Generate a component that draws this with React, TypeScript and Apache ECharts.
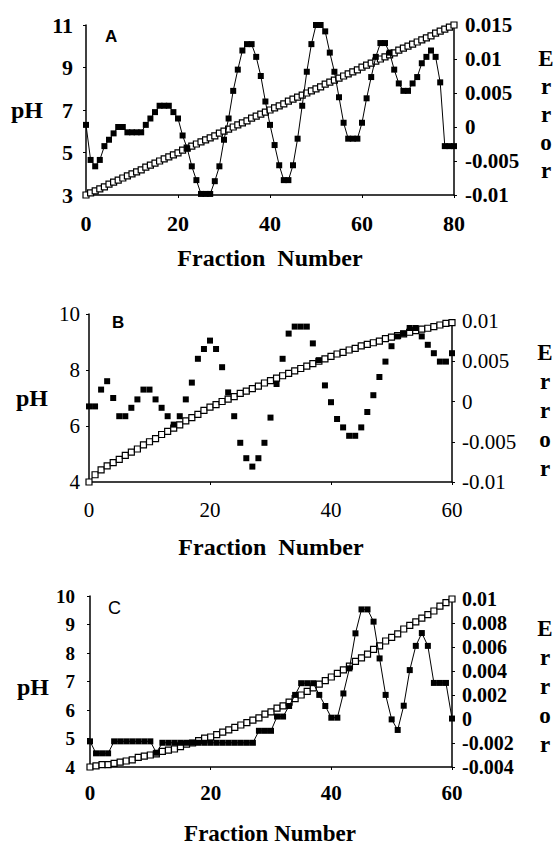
import React, { useEffect, useRef } from "react";
import * as echarts from "echarts";

// Panel A: pH gradient (filled squares) and error (open squares), fractions 0-80
const phA = [
  6.3, 4.65, 4.35, 4.65, 5.3, 5.6, 5.9, 6.2, 6.2, 5.95,
  5.95, 5.95, 5.95, 6.3, 6.6, 6.9, 7.2, 7.2, 7.2, 6.9,
  6.6, 5.8, 5.2, 4.35, 3.7, 3.05, 3.05, 3.05, 3.65, 4.35,
  5.6, 6.6, 7.9, 8.9, 9.8, 10.1, 10.1, 9.5, 8.6, 7.4,
  6.3, 5.35, 4.4, 3.7, 3.7, 4.4, 5.65, 7.2, 8.8, 10.1,
  11, 11, 10.7, 9.7, 8.8, 7.6, 6.4, 5.65, 5.65, 5.65,
  6.4, 7.55, 8.55, 9.5, 10.15, 10.15, 9.7, 8.9, 8.25, 7.9,
  7.9, 8.25, 8.55, 9.2, 9.5, 9.8, 9.5, 8.3, 5.3, 5.3,
  5.3,
];
const errA = [
  -0.01, -0.0097, -0.0094, -0.0091, -0.0088, -0.0084, -0.0081, -0.0078, -0.0075, -0.0072,
  -0.0069, -0.0066, -0.0063, -0.0059, -0.0056, -0.0053, -0.005, -0.0047, -0.0044, -0.0041,
  -0.0038, -0.0034, -0.0031, -0.0028, -0.0025, -0.0022, -0.0019, -0.0016, -0.0013, -0.0009,
  -0.0006, -0.0003, 0.0, 0.0003, 0.0006, 0.0009, 0.0013, 0.0016, 0.0019, 0.0022,
  0.0025, 0.0028, 0.0031, 0.0034, 0.0038, 0.0041, 0.0044, 0.0047, 0.005, 0.0053,
  0.0056, 0.0059, 0.0063, 0.0066, 0.0069, 0.0072, 0.0075, 0.0078, 0.0081, 0.0084,
  0.0088, 0.0091, 0.0094, 0.0097, 0.01, 0.0103, 0.0106, 0.0109, 0.0113, 0.0116,
  0.0119, 0.0122, 0.0125, 0.0128, 0.0131, 0.0134, 0.0138, 0.0141, 0.0144, 0.0147,
  0.015,
];

// Panel B: fractions 0-60, pH shown as unconnected points
const phB = [
  6.7, 6.7, 7.3, 7.6, 7.0, 6.35, 6.35, 6.65, 6.95, 7.3,
  7.3, 6.95, 6.65, 6.35, 6.05, 6.35, 6.95, 7.55, 8.4, 8.75,
  9.05, 8.75, 8.1, 7.2, 6.35, 5.4, 4.85, 4.55, 4.85, 5.4,
  6.3, 7.5, 8.4, 9.3, 9.55, 9.55, 9.55, 8.95, 8.35, 7.45,
  6.85, 6.25, 5.95, 5.65, 5.65, 5.95, 6.5, 7.1, 7.75, 8.3,
  8.85, 9.2, 9.3, 9.5, 9.5, 9.2, 8.9, 8.6, 8.3, 8.3,
  8.6,
];
const errB = [
  -0.01, -0.0091, -0.0085, -0.008, -0.0076, -0.0072, -0.0067, -0.0063, -0.0059, -0.0054,
  -0.005, -0.0046, -0.0041, -0.0037, -0.0033, -0.0029, -0.0024, -0.002, -0.0016, -0.0011,
  -0.0007, -0.0004, 0.0, 0.0003, 0.0006, 0.001, 0.0013, 0.0016, 0.0019, 0.0023,
  0.0026, 0.0029, 0.0032, 0.0035, 0.0038, 0.0041, 0.0044, 0.0047, 0.005, 0.0053,
  0.0056, 0.0059, 0.0061, 0.0064, 0.0066, 0.0069, 0.0071, 0.0073, 0.0075, 0.0078,
  0.008, 0.0082, 0.0084, 0.0086, 0.0088, 0.009, 0.0091, 0.0093, 0.0095, 0.0097,
  0.0098,
];

// Panel C: fractions 0-60
const phC = [
  4.9, 4.48, 4.48, 4.48, 4.9, 4.9, 4.9, 4.9, 4.9, 4.9,
  4.9, 4.5, 4.85, 4.85, 4.85, 4.85, 4.85, 4.85, 4.85, 4.85,
  4.85, 4.85, 4.85, 4.85, 4.85, 4.85, 4.85, 4.85, 5.27, 5.27,
  5.27, 5.77, 5.77, 6.14, 6.53, 6.94, 6.94, 6.94, 6.53, 6.14,
  5.73, 5.73, 6.58, 7.46, 8.69, 9.53, 9.53, 9.1, 7.81, 6.53,
  5.67, 5.3, 6.15, 7.4, 8.25, 8.7, 8.25, 6.95, 6.95, 6.95,
  5.7,
];
const errC = [
  -0.004, -0.0039, -0.0038, -0.0038, -0.0037, -0.0036, -0.0035, -0.0034, -0.0032, -0.0031,
  -0.003, -0.0029, -0.0027, -0.0026, -0.0025, -0.0023, -0.0021, -0.002, -0.0018, -0.0016,
  -0.0015, -0.0013, -0.0011, -0.0009, -0.0007, -0.0005, -0.0003, -0.0001, 0.0001, 0.0004,
  0.0006, 0.0009, 0.0011, 0.0014, 0.0017, 0.002, 0.0023, 0.0026, 0.0029, 0.0032,
  0.0035, 0.0038, 0.0041, 0.0044, 0.0048, 0.0051, 0.0054, 0.0058, 0.0061, 0.0065,
  0.0068, 0.0071, 0.0075, 0.0078, 0.0081, 0.0084, 0.0087, 0.009, 0.0094, 0.0097,
  0.01,
];

const panelLetters = ["A", "B", "C"];
const xTitle = ["Fraction  Number", "Fraction  Number", "Fraction Number"];
const rightTitle = ["E", "r", "r", "o", "r"];

const SERIF = '"Liberation Serif", "Times New Roman", serif';
const SANS = '"Liberation Sans", Arial, sans-serif';

type Panel = {
  ph: number[];
  err: number[];
  xMax: number;
  phMin: number;
  phMax: number;
  phStep: number;
  errMin: number;
  errMax: number;
  errStep: number;
  left: number;
  right: number;
  top: number;
  topR: number;
  bottom: number;
  joined: boolean;
  bold: boolean;
  yFont: number;
  rFont: number;
  xFont: number;
  yMargin: number;
  rMargin: number;
  xMargin: number;
};

const panels: Panel[] = [
  {
    ph: phA, err: errA, xMax: 80,
    phMin: 3, phMax: 11, phStep: 2,
    errMin: -0.01, errMax: 0.015, errStep: 0.005,
    left: 86, right: 454, top: 25, topR: 25, bottom: 195,
    joined: true, bold: true, yFont: 22, rFont: 21, xFont: 22,
    yMargin: 13, rMargin: 11, xMargin: 17,
  },
  {
    ph: phB, err: errB, xMax: 60,
    phMin: 4, phMax: 10, phStep: 2,
    errMin: -0.01, errMax: 0.01, errStep: 0.005,
    left: 89, right: 452, top: 314, topR: 321, bottom: 482,
    joined: false, bold: false, yFont: 21, rFont: 21, xFont: 21,
    yMargin: 9, rMargin: 10, xMargin: 17,
  },
  {
    ph: phC, err: errC, xMax: 60,
    phMin: 4, phMax: 10, phStep: 1,
    errMin: -0.004, errMax: 0.01, errStep: 0.002,
    left: 90, right: 452, top: 596, topR: 599, bottom: 767,
    joined: true, bold: true, yFont: 19, rFont: 20, xFont: 21,
    yMargin: 15, rMargin: 10, xMargin: 15,
  },
];

const textPos = [
  { letter: [105, 37, 17, "bold"], ph: [27, 110], err: [546, 58, 28], title: [270, 258, 24] },
  { letter: [112, 323, 17, "bold"], ph: [32, 398], err: [545, 352, 29], title: [271, 547, 24] },
  { letter: [108, 608, 18, "normal"], ph: [33, 687], err: [545, 628, 29], title: [270, 833, 23] },
];

function buildOption() {
  const grid: any[] = [];
  const xAxis: any[] = [];
  const yAxis: any[] = [];
  const series: any[] = [];
  const graphic: any[] = [];
  const axisLine = { show: true, onZero: false, lineStyle: { color: "#000", width: 1.5 } };
  const axisTick = { show: true, length: 3, lineStyle: { color: "#000", width: 1 } };

  panels.forEach((p, i) => {
    const gL = 2 * i;
    const gR = 2 * i + 1;
    const weight = p.bold ? "bold" : "normal";
    grid.push({ left: p.left, top: p.top, width: p.right - p.left, height: p.bottom - p.top });
    grid.push({ left: p.left, top: p.topR, width: p.right - p.left, height: p.bottom - p.topR });

    xAxis.push({
      gridIndex: gL, type: "value", min: 0, max: p.xMax, interval: 20,
      axisLine, axisTick,
      splitLine: { show: false },
      axisLabel: {
        color: "#000", fontFamily: SERIF, fontWeight: weight,
        fontSize: p.xFont, margin: p.xMargin,
      },
    });
    xAxis.push({ gridIndex: gR, type: "value", min: 0, max: p.xMax, show: false });

    yAxis.push({
      gridIndex: gL, type: "value", position: "left",
      min: p.phMin, max: p.phMax, interval: p.phStep,
      axisLine, axisTick,
      splitLine: { show: false },
      axisLabel: {
        color: "#000", fontFamily: SERIF, fontWeight: weight,
        fontSize: p.yFont, margin: p.yMargin,
      },
    });
    yAxis.push({
      gridIndex: gR, type: "value", position: "right",
      min: p.errMin, max: p.errMax, interval: p.errStep,
      axisLine, axisTick,
      splitLine: { show: false },
      axisLabel: {
        color: "#000", fontFamily: SERIF, fontWeight: weight,
        fontSize: p.rFont, margin: p.rMargin,
        formatter: (v: number) => String(Number(v.toFixed(4))),
      },
    });

    // error curve: open squares joined by a thin line
    series.push({
      type: "line",
      xAxisIndex: gR, yAxisIndex: gR,
      data: p.err.map((v, k) => [k, v]),
      symbol: "rect", symbolSize: 6,
      itemStyle: { color: "#fff", borderColor: "#000", borderWidth: 1.2 },
      lineStyle: { color: "#000", width: 1 },
      clip: false, z: 2, silent: true,
    });
    // measured pH: filled squares
    series.push({
      type: "line",
      xAxisIndex: gL, yAxisIndex: gL,
      data: p.ph.map((v, k) => [k, v]),
      symbol: "rect", symbolSize: 6,
      itemStyle: { color: "#000" },
      lineStyle: { color: "#000", width: p.joined ? 1 : 0, opacity: p.joined ? 1 : 0 },
      clip: false, z: 3, silent: true,
    });

    const t = textPos[i];
    graphic.push({
      type: "text", left: t.letter[0] as number, top: (t.letter[1] as number) - 9,
      style: {
        text: panelLetters[i], fill: "#000", font: `${t.letter[3]} ${t.letter[2]}px ${SANS}`,
      },
    });
    graphic.push({
      type: "text", x: t.ph[0], y: t.ph[1],
      style: {
        text: "pH", fill: "#000", font: `bold 24px ${SERIF}`,
        align: "center", verticalAlign: "middle",
      },
    });
    rightTitle.forEach((ch, k) => {
      graphic.push({
        type: "text", x: t.err[0], y: t.err[1] + k * t.err[2],
        style: {
          text: ch, fill: "#000", font: `bold 23px ${SERIF}`,
          align: "center", verticalAlign: "middle",
        },
      });
    });
    graphic.push({
      type: "text", x: t.title[0], y: t.title[1],
      style: {
        text: xTitle[i], fill: "#000", font: `bold ${t.title[2]}px ${SERIF}`,
        align: "center", verticalAlign: "middle",
      },
    });
  });

  return {
    animation: false,
    backgroundColor: "#fff",
    grid, xAxis, yAxis, series, graphic,
  };
}

export default function App() {
  const ref = useRef<HTMLDivElement>(null);
  useEffect(() => {
    document.body.style.margin = "0";
    if (!ref.current) return;
    const chart = echarts.init(ref.current, undefined, { renderer: "svg" });
    chart.setOption(buildOption());
    return () => chart.dispose();
  }, []);
  return <div ref={ref} style={{ width: 558, height: 844, background: "#fff" }} />;
}
